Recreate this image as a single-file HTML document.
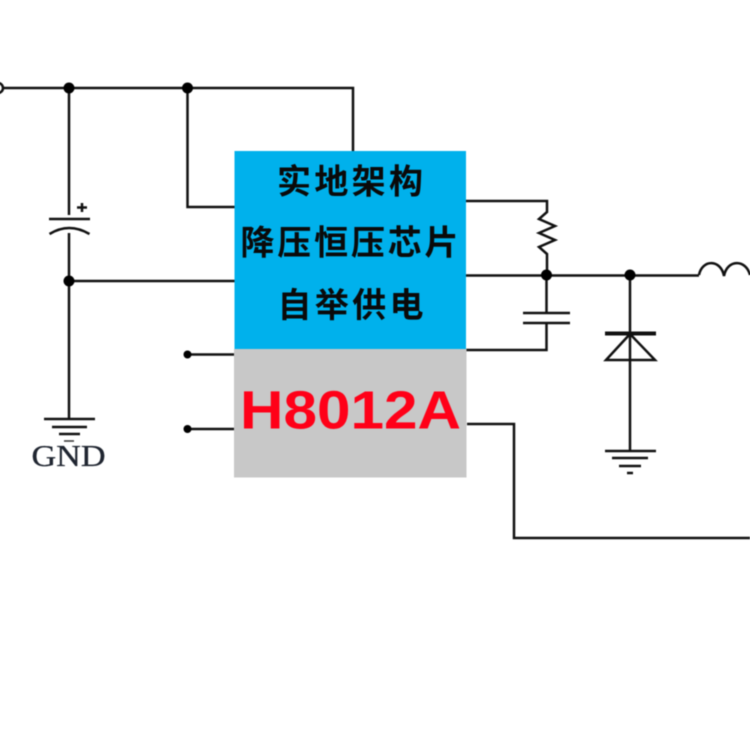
<!DOCTYPE html>
<html><head><meta charset="utf-8"><style>
html,body{margin:0;padding:0;background:#fff}
svg{display:block}
</style></head><body>
<svg width="750" height="750" viewBox="0 0 750 750" xmlns="http://www.w3.org/2000/svg">
<rect width="750" height="750" fill="#fff"/>
<g style="filter:blur(0.55px)">
<g fill="none" stroke="#111" stroke-width="2.500">
<path d="M0 88H353V152"/>
<path d="M187.500 88V207H235"/>
<path d="M69 88V215M69 233V420"/>
<path d="M69 281H235"/>
<path d="M49 219H90" stroke-width="2.500"/>
<path d="M49.500 234Q69 222 89.500 234" stroke-width="2.500"/>
<path d="M44 419H95M52 427H87M59 434H80" stroke-width="2.500"/>
<path d="M187 354.500H235M187 429H235"/>
<path d="M466 201H547V212L539 219L555 226L539 233L555 240L539 247L547 254V275"/>
<path d="M466 275.500H699"/>
<path d="M546.500 275V313M546.500 323V350H466"/>
<path d="M523 313H570M523 323H570" stroke-width="2.500"/>
<path d="M630 275V451"/>
<path d="M605 333.500H656" stroke-width="4"/>
<path d="M630 334L606 360H655Z" stroke-width="2.500"/>
<path d="M605 451H656M612 458H648M619 466H641" stroke-width="2.500"/>
<path d="M627 473H633" stroke-width="2.500"/>
<path d="M699 275C702 259 721 259 724 276C727 259 746 259 750 275" stroke-width="2.500"/>
<path d="M467 424H514V538H750"/>
</g>
<g fill="#000">
<circle cx="69" cy="88" r="5.500"/>
<circle cx="187.500" cy="88" r="5.500"/>
<circle cx="69" cy="281" r="5.500"/>
<circle cx="187.500" cy="354.500" r="4"/>
<circle cx="187.500" cy="429" r="4"/>
<circle cx="546.500" cy="275" r="5.500"/>
<circle cx="630" cy="275" r="5.500"/>
</g>
<circle cx="-2" cy="88" r="5" fill="#fff" stroke="#111" stroke-width="2.500"/>
<path d="M77 207.500H87M82 203V212" stroke="#111" stroke-width="2.500" fill="none"/>
<rect x="234.500" y="151" width="231.500" height="198" fill="#00b1ec"/>
<rect x="234" y="349" width="232.500" height="128.500" fill="#c8c8c8"/>
<g font-family="'Liberation Sans','Noto Sans CJK SC',sans-serif" font-weight="700" font-size="34" fill="#0a0a0a" text-anchor="middle">
<text x="350" y="193.500" textLength="146" lengthAdjust="spacing">实地架构</text>
<text x="349.500" y="254.500" textLength="218" lengthAdjust="spacing">降压恒压芯片</text>
<text x="350.500" y="317" textLength="146" lengthAdjust="spacing">自举供电</text>
</g>
<text x="350.500" y="428.500" font-family="'Liberation Sans',sans-serif" font-weight="700" font-size="54" fill="#ff0018" text-anchor="middle" textLength="221" lengthAdjust="spacingAndGlyphs">H8012A</text>
<text x="68.500" y="466" font-family="'Liberation Serif',serif" font-size="31" fill="#1f2530" stroke="#1f2530" stroke-width="0.300" text-anchor="middle" textLength="74" lengthAdjust="spacingAndGlyphs">GND</text>
<path d="M64 441H74" stroke="#333" stroke-width="1.500"/>
</g>
</svg>
</body></html>
